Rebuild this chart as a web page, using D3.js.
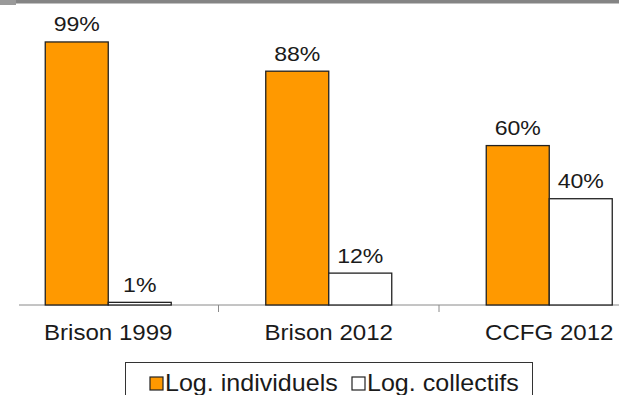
<!DOCTYPE html>
<html>
<head>
<meta charset="utf-8">
<script src="https://cdn.jsdelivr.net/npm/d3@7"></script>
<style>
  body{margin:0;background:#fff;}
  text{font-family:"Liberation Sans",Arial,sans-serif;fill:#1a1a1a;}
</style>
</head>
<body>
<div id="chart"></div>
<script>
const width=619;
const height=395;

// data
const categories=["Brison 1999","Brison 2012","CCFG 2012"];
const seriesNames=["Log. individuels","Log. collectifs"];
const individuels=[99,88,60];
const collectifs=[1,12,40];
const colors=["#ff9900","#ffffff"];

const rows=categories.map((c,i)=>({cat:c,values:[individuels[i],collectifs[i]]}));

const svg=d3.select("#chart")
  .append("svg")
  .attr("width",width)
  .attr("height",height);

// grey band on the top edge
svg.append("rect").attr("x",0).attr("y",0).attr("width",width).attr("height",3.5).attr("fill","#848484");
svg.append("rect").attr("x",0).attr("y",0).attr("width",16).attr("height",5).attr("fill","#9a9a9a");

//Scales
const x0=d3.scaleBand()
  .domain(categories)
  .range([-2,659.5]);
const x1=d3.scaleBand()
  .domain([0,1])
  .range([0,x0.bandwidth()])
  .paddingOuter(0.75);
const y=d3.scaleLinear()
  .domain([0,100])
  .range([305,39.3]);

//Axis line and ticks between groups
svg.append("line")
  .attr("x1",19).attr("x2",width)
  .attr("y1",y(0)).attr("y2",y(0))
  .attr("stroke","#8a8a8a").attr("stroke-width",1);
svg.selectAll(".tick")
  .data(categories.slice(1))
  .enter()
  .append("line")
  .attr("x1",d=>x0(d)).attr("x2",d=>x0(d))
  .attr("y1",y(0)).attr("y2",y(0)+7)
  .attr("stroke","#8a8a8a");

//Bars
const groups=svg.selectAll(".grp")
  .data(rows)
  .enter()
  .append("g")
  .attr("transform",d=>`translate(${x0(d.cat)},0)`);

groups.selectAll("rect")
  .data(d=>d.values)
  .enter()
  .append("rect")
  .attr("x",(v,i)=>x1(i))
  .attr("y",v=>y(v))
  .attr("width",x1.bandwidth())
  .attr("height",v=>y(0)-y(v))
  .attr("fill",(v,i)=>colors[i])
  .attr("stroke","#222")
  .attr("stroke-width",1.3);

// the text in the picture is a bit wider than tall, so stretch it a little
groups.selectAll(".val")
  .data(d=>d.values)
  .enter()
  .append("text")
  .attr("transform",(v,i)=>`translate(${x1(i)+x1.bandwidth()/2},${y(v)-10.5}) scale(1.1,1)`)
  .attr("text-anchor","middle")
  .style("font-size","21px")
  .text(v=>v+"%");

//Category labels
svg.selectAll(".cat")
  .data(categories)
  .enter()
  .append("text")
  .attr("transform",d=>`translate(${x0(d)+x0.bandwidth()/2},340) scale(1.07,1)`)
  .attr("text-anchor","middle")
  .style("font-size","22.5px")
  .text(d=>d);

//Legend
svg.append("rect")
  .attr("x",125.5).attr("y",362.5)
  .attr("width",407).attr("height",40)
  .attr("fill","#fff").attr("stroke","#333").attr("stroke-width",1);

const legendX=[150,352];
const legend=svg.selectAll(".leg")
  .data(seriesNames)
  .enter()
  .append("g")
  .attr("transform",(d,i)=>`translate(${legendX[i]},0)`);
legend.append("rect")
  .attr("x",0).attr("y",377)
  .attr("width",13).attr("height",13)
  .attr("fill",(d,i)=>colors[i])
  .attr("stroke","#222").attr("stroke-width",1.2);
legend.append("text")
  .attr("transform","translate(15,391) scale(1.09,1)")
  .style("font-size","23px")
  .text(d=>d);
</script>
</body>
</html>
